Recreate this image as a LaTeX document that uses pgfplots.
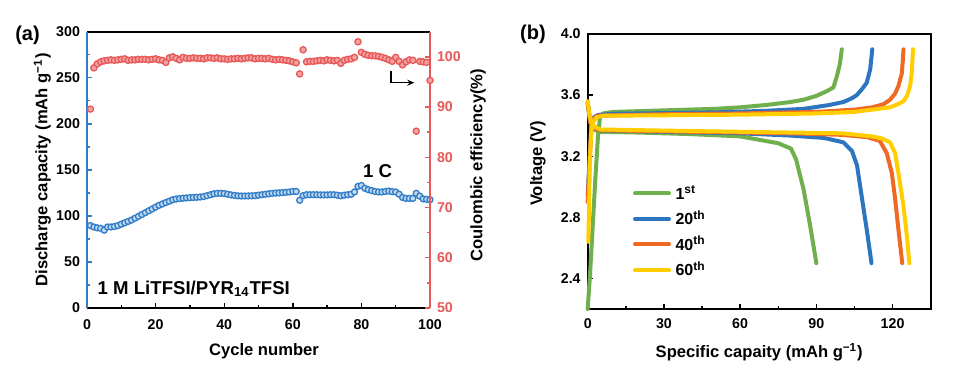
\documentclass[border=0pt]{standalone}
\usepackage{fontspec}
\setmainfont{Liberation Sans}
\usepackage{pgfplots}
\usepackage{pgfplotstable}
\pgfplotsset{compat=1.18}
\usetikzlibrary{arrows.meta}
\definecolor{cblue}{RGB}{50,125,200}
\definecolor{cred}{RGB}{232,88,88}
\definecolor{cgreen}{RGB}{112,176,76}
\definecolor{cblueb}{RGB}{46,117,192}
\definecolor{corange}{RGB}{240,105,35}
\definecolor{cyellow}{RGB}{255,205,0}
\newcommand{\tickfont}{\bfseries\fontsize{7.1}{8}\selectfont}
\newcommand{\labfont}{\bfseries\fontsize{8.3}{9.6}\selectfont}
\pgfplotsset{
  every tick label/.append style={font=\tickfont},
  every axis label/.append style={font=\labfont},
}

\pgfplotstableread{
cyc cap
1 89.5
2 88
3 87
4 86.5
5 84.5
6 88
7 88
8 88.5
9 89.5
10 91
11 92.5
12 94
13 95.5
14 97.5
15 99.5
16 101.5
17 103.5
18 105.5
19 107.5
20 109.5
21 111.5
22 113
23 114.5
24 116
25 117.5
26 118.3
27 118.8
28 119.2
29 119.5
30 119.8
31 120
32 120.2
33 120.5
34 121
35 122
36 123
37 124
38 124.5
39 124.5
40 124.3
41 123.5
42 122.8
43 122.2
44 121.8
45 121.6
46 121.6
47 121.7
48 121.8
49 122
50 122.5
51 123
52 123.5
53 124
54 124.5
55 124.8
56 125
57 125.3
58 125.6
59 126
60 126.5
61 126.5
62 117
63 122
64 123
65 123
66 123
67 123
68 122.8
69 122.8
70 122.8
71 123
72 123
73 122.5
74 121.8
75 122.5
76 123
77 123.5
78 126
79 132
80 133
81 130
82 128.5
83 127.5
84 126.5
85 126
86 126
87 126.5
88 127
89 126.3
90 126
91 123.5
92 120
93 119
94 119
95 119
96 124.5
97 121.5
98 118.5
99 118
100 117.5
}\capdata

\pgfplotstableread{
cyc ce
1 89.6
2 97.8
3 98.6
4 99.0
5 99.2
6 99.3
7 99.4
8 99.3
9 99.4
10 99.5
11 99.6
12 99.3
13 99.4
14 99.4
15 99.5
16 99.5
17 99.5
18 99.4
19 99.5
20 99.6
21 99.4
22 99.3
23 98.9
24 99.8
25 100.0
26 99.7
27 99.4
28 99.9
29 99.7
30 99.7
31 99.8
32 99.7
33 99.7
34 99.6
35 99.8
36 99.8
37 99.7
38 99.8
39 99.6
40 99.6
41 99.5
42 99.6
43 99.6
44 99.7
45 99.6
46 99.7
47 99.8
48 99.8
49 99.6
50 99.7
51 99.7
52 99.6
53 99.7
54 99.5
55 99.4
56 99.5
57 99.4
58 99.3
59 99.2
60 99.0
61 98.8
62 96.6
63 101.4
64 99.0
65 99.1
66 99.1
67 99.2
68 99.3
69 99.2
70 99.4
71 99.3
72 99.2
73 99.3
74 98.7
75 99.3
76 99.5
77 99.6
78 99.9
79 103.0
80 100.9
81 100.5
82 100.3
83 100.2
84 100.2
85 100.1
86 99.9
87 99.7
88 99.4
89 99.1
90 99.9
91 99.1
92 98.4
93 99.0
94 99.4
95 99.3
96 85.2
97 99.1
98 99.0
99 98.9
100 95.3
}\cedata

\begin{document}
\begin{tikzpicture}
\useasboundingbox (0,0) rectangle (477.5pt,185.5pt);
\pgfplotsset{
  mystyle/.style={
    scale only axis, tick align=inside,
    major tick length=2.4pt, minor tick length=1.4pt,
    every tick/.style={line width=0.7pt},
    clip=false,
    /pgf/number format/assume math mode=true,
  }
}
% ---------- panel (a), left axis ----------
\begin{axis}[mystyle,
  at={(43.5pt,31.5pt)}, anchor=south west, width=171.5pt, height=138.15pt,
  xmin=0, xmax=100, ymin=0, ymax=300,
  xtick={0,20,...,100}, minor x tick num=1,
  ytick={0,50,...,300}, minor y tick num=1,
  xtick pos=bottom, ytick pos=left,
  separate axis lines,
  x axis line style={black, line width=1pt},
  y axis line style={cblue, line width=1pt},
  ytick style={cblue},
  xticklabel style={font=\tickfont, yshift=-2.5pt},
  yticklabel style={font=\tickfont},
  xlabel={Cycle number},
  ylabel={Discharge capacity (mAh g\textsuperscript{−1})},
  every axis x label/.style={at={(axis description cs:0.516,-0.155)}, anchor=center, font=\labfont},
  every axis y label/.style={at={(axis description cs:-0.13,0.5)}, rotate=90, anchor=center, font=\labfont},
]
\addplot[only marks, mark=*, mark size=1.5pt,
  mark options={draw=cblue, fill=cblue!30!white, line width=0.65pt}]
  table[x=cyc, y=cap] {\capdata};
\end{axis}
% ---------- panel (a), right axis ----------
\begin{axis}[mystyle,
  at={(43.5pt,31.5pt)}, anchor=south west, width=171.5pt, height=138.15pt,
  xmin=0, xmax=100, ymin=50, ymax=105,
  axis x line=none, axis y line*=right,
  ytick={50,60,...,100}, minor y tick num=1,
  y axis line style={cred, line width=1pt},
  ytick style={cred},
  yticklabel style={font=\tickfont, text=cred},
  ylabel={Coulombic efficiency(\%)},
  every axis y label/.style={at={(axis description cs:1.14,0.517)}, rotate=90, anchor=center, font=\labfont},
]
\addplot[only marks, mark=*, mark size=1.55pt,
  mark options={draw=cred, fill=cred!55!white, line width=0.65pt}]
  table[x=cyc, y=ce] {\cedata};
\end{axis}
% ---------- panel (b) ----------
\begin{axis}[mystyle,
  at={(293.85pt,31pt)}, anchor=south west, width=171.5pt, height=137.5pt,
  xmin=0, xmax=135, ymin=2.2, ymax=4.0,
  xtick={0,30,...,120}, minor x tick num=1,
  ytick={2.4,2.8,3.2,3.6,4.0},
  xticklabel style={font=\tickfont, yshift=-1.5pt},
  yticklabel style={font=\tickfont, /pgf/number format/.cd, fixed, fixed zerofill, precision=1},
  xtick pos=bottom, ytick pos=left,
  axis line style={line width=1pt},
  xlabel={Specific capaity (mAh g\textsuperscript{−1})},
  ylabel={Voltage (V)},
  every axis x label/.style={at={(axis description cs:0.5,-0.158)}, anchor=center, font=\labfont},
  every axis y label/.style={at={(axis description cs:-0.145,0.53)}, rotate=90, anchor=center, font=\labfont},
  legend style={draw=none, fill=none, at={(axis cs:17.83,3.04)}, anchor=north west,
    inner sep=0pt, outer sep=0pt, row sep=0pt,
    font=\bfseries\fontsize{8}{9}\selectfont,
    nodes={inner xsep=2.3pt, inner ysep=0pt, text height=9.3pt, text depth=3.45pt},
    cells={anchor=west}},
  legend image code/.code={\draw[#1, line width=2pt] (0pt,0pt) -- (17pt,0pt);},
  every axis plot/.append style={line width=2pt, line join=round, line cap=round},
]
% 1st
\addplot[cgreen] coordinates {(0,2.2) (1,2.45) (2,2.75) (3,3.05) (4,3.32) (4.8,3.45) (6,3.48) (10,3.49) (20,3.495) (30,3.50) (40,3.505) (50,3.51) (60,3.52) (70,3.535) (80,3.555) (85,3.57) (90,3.595) (94,3.625) (96.7,3.65) (98,3.72) (99.2,3.80) (99.7,3.86) (100,3.90)};
\addlegendentry{1\textsuperscript{st}}
\addplot[cgreen, forget plot] coordinates {(0,3.55) (1,3.42) (3,3.37) (5,3.36) (20,3.355) (40,3.345) (60,3.33) (70,3.30) (75,3.285) (80,3.25) (82,3.18) (85,2.98) (87.5,2.75) (90,2.5)};
% 20th
\addplot[cblueb] coordinates {(0,2.95) (0.8,3.2) (1.5,3.40) (2.5,3.455) (4,3.47) (10,3.478) (30,3.482) (50,3.487) (70,3.497) (85,3.51) (95,3.535) (100.7,3.555) (104,3.58) (105.9,3.60) (108,3.64) (109.8,3.68) (111.2,3.77) (111.7,3.85) (112,3.90)};
\addlegendentry{20\textsuperscript{th}}
\addplot[cblueb, forget plot] coordinates {(0,3.55) (1,3.42) (3,3.38) (5,3.37) (30,3.36) (60,3.35) (80,3.335) (92.8,3.32) (97,3.305) (100.7,3.29) (104,3.235) (106,3.14) (108,2.92) (110,2.70) (111.7,2.5)};
% 40th
\addplot[corange] coordinates {(0,2.9) (0.8,3.2) (1.5,3.40) (2.5,3.45) (4,3.465) (30,3.475) (60,3.48) (90,3.49) (105,3.505) (112,3.52) (116.4,3.54) (119,3.57) (121,3.61) (122.3,3.66) (123.6,3.74) (124,3.82) (124.3,3.90)};
\addlegendentry{40\textsuperscript{th}}
\addplot[corange, forget plot] coordinates {(0,3.55) (1,3.42) (3,3.38) (5,3.37) (40,3.36) (80,3.35) (100,3.34) (110,3.325) (115,3.30) (117.7,3.22) (119.7,3.09) (121,2.92) (122.3,2.72) (123.8,2.5)};
% 60th
\addplot[cyellow] coordinates {(0.25,2.64) (0.8,3.1) (1.3,3.35) (2,3.42) (3.5,3.455) (6,3.465) (30,3.468) (60,3.472) (90,3.48) (105,3.49) (112,3.505) (119,3.52) (122,3.54) (124.3,3.56) (125.8,3.60) (126.9,3.66) (127.5,3.74) (127.8,3.82) (128,3.90)};
\addlegendentry{60\textsuperscript{th}}
\addplot[cyellow, forget plot] coordinates {(0,3.56) (0.6,3.48) (1.5,3.42) (3,3.39) (5,3.375) (40,3.365) (80,3.355) (100,3.35) (112,3.33) (116,3.315) (119,3.29) (121,3.22) (122.3,3.09) (124.3,2.87) (125.6,2.68) (126.6,2.5)};
\end{axis}
% ---------- annotations ----------
\node[font=\bfseries\fontsize{10}{12}\selectfont, anchor=center] at (13.75pt,167.75pt) {(a)};
\node[font=\bfseries\fontsize{10}{12}\selectfont, anchor=center] at (266.5pt,168.25pt) {(b)};
\node[font=\bfseries\fontsize{9.3}{11}\selectfont, anchor=base west, inner sep=0pt] at (48.65pt,38.5pt) {1 M LiTFSI/PYR\textsubscript{14}TFSI};
\node[font=\bfseries\fontsize{9.3}{11}\selectfont, anchor=base west, inner sep=0pt] at (181.35pt,96.85pt) {1 C};
\draw[line width=0.7pt, -{Stealth[length=3.5pt, width=3pt]}] (195.5pt,150.15pt) -- (195.5pt,144.15pt) -- (207.15pt,144.15pt);
\end{tikzpicture}
\end{document}
